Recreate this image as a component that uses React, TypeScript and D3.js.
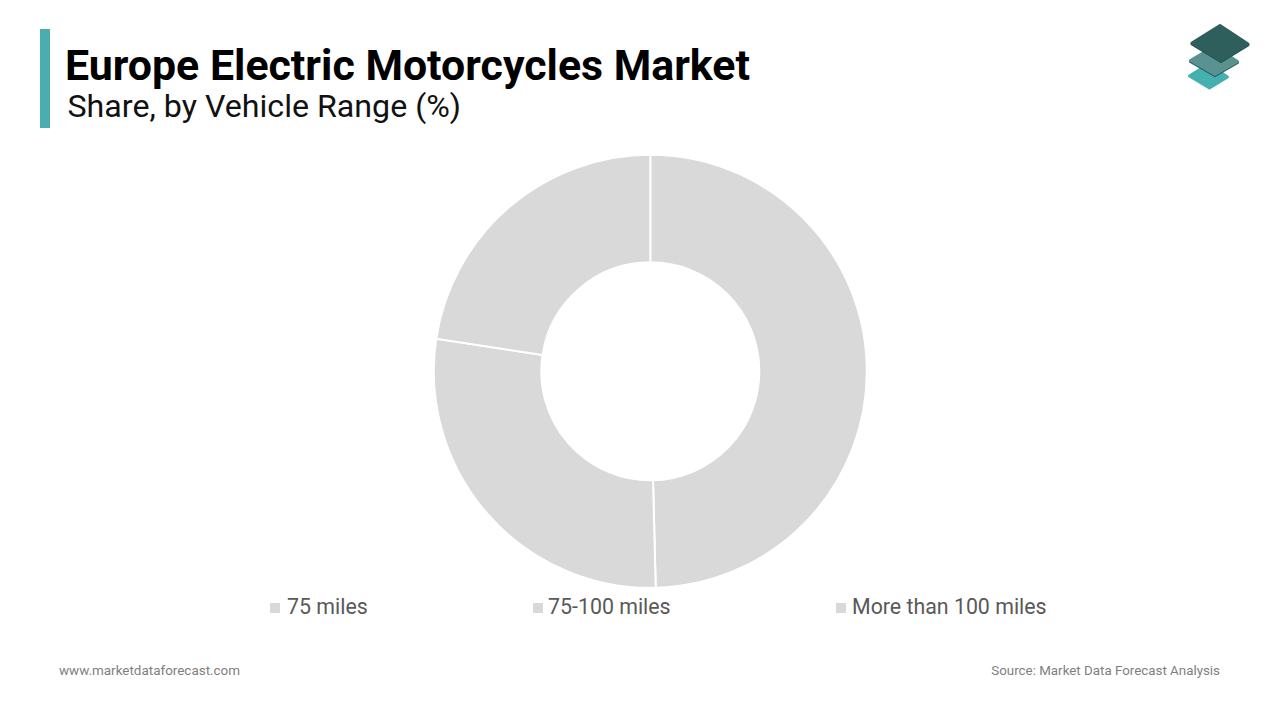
import * as d3 from "d3";

const categories = ["75 miles", "75-100 miles", "More than 100 miles"];
const shares = [49.6, 27.8, 22.6];
const legendX = [270, 533, 836];
const legendTextX = [287, 548, 852];

const width = 1280;
const height = 720;
const sliceColor = "#d9d9d9";
const font = "Roboto, sans-serif";

const pie = d3.pie<number>().sort(null).value((d) => d);
const arc = d3.arc<d3.PieArcDatum<number>>().innerRadius(109).outerRadius(216.5);

// isometric tile used in the logo, centred on cx,cy
const tile = (cx: number, cy: number, w: number, h: number) => {
    const line = d3.line().curve(d3.curveLinearClosed);
    return line([[cx - w, cy], [cx, cy - h], [cx + w, cy + 1], [cx + 1, cy + h]])!;
};

const App = () => {
    const slices = pie(shares);

    return (
        <svg
            width={width}
            height={height}
            style={{ position: "absolute", left: 0, top: 0, background: "#fff" }}
            fontFamily={font}
        >
            <rect x={40} y={29} width={10} height={99} fill="#4aaeae" />
            <text x={65} y={80} fontSize={42} fontWeight={700} fill="#000" textLength={685} lengthAdjust="spacingAndGlyphs">
                Europe Electric Motorcycles Market
            </text>
            <text x={67.5} y={117} fontSize={31} fill="#111" textLength={393.5} lengthAdjust="spacingAndGlyphs">
                Share, by Vehicle Range (%)
            </text>

            {/* logo */}
            <g strokeLinejoin="round" strokeWidth={3}>
                <path d={tile(1208.5, 76, 19, 12)} fill="#45b0b0" stroke="#45b0b0" />
                <path d={tile(1214, 60.5, 23.5, 14)} fill="#28504e" stroke="#28504e" transform="translate(0,1)" />
                <path d={tile(1214, 60.5, 23.5, 14)} fill="#5a9291" stroke="#5a9291" />
                <path d={tile(1220, 43, 28, 17.5)} fill="#24504e" stroke="#24504e" transform="translate(0,1)" />
                <path d={tile(1220, 43, 28, 17.5)} fill="#2f5f5d" stroke="#2f5f5d" />
            </g>

            <g transform="translate(650.3,371.3)">
                {slices.map((s, i) => (
                    <path key={categories[i]} d={arc(s)!} fill={sliceColor} stroke="#fff" strokeWidth={2} />
                ))}
            </g>

            {categories.map((c, i) => (
                <g key={c}>
                    <rect x={legendX[i]} y={603} width={10} height={10} fill={sliceColor} />
                    <text x={legendTextX[i]} y={614} fontSize={21.35} fill="#595959">
                        {c}
                    </text>
                </g>
            ))}

            <text x={59} y={675} fontSize={13.45} fill="#7f7f7f">
                www.marketdataforecast.com
            </text>
            <text x={1220} y={675} fontSize={13.35} fill="#7f7f7f" textAnchor="end">
                Source: Market Data Forecast Analysis
            </text>
        </svg>
    );
};

export default App;
